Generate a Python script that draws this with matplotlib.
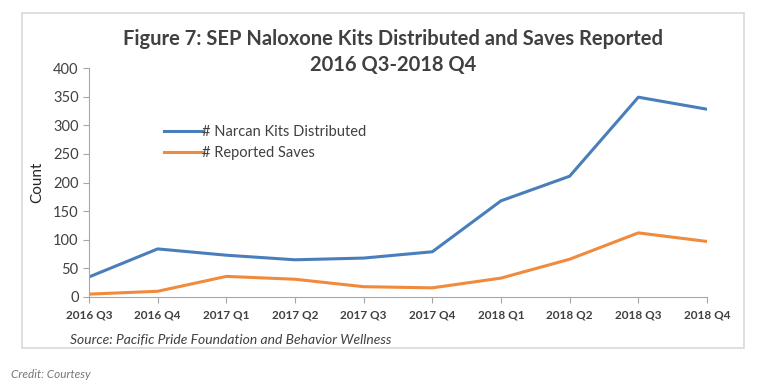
import matplotlib.pyplot as plt
from matplotlib.patches import Rectangle

quarters = ['2016 Q3', '2016 Q4', '2017 Q1', '2017 Q2', '2017 Q3',
            '2017 Q4', '2018 Q1', '2018 Q2', '2018 Q3', '2018 Q4']
kits = [35, 84, 73, 65, 68, 79, 168, 211, 349, 328]
saves = [5, 10, 36, 31, 18, 16, 33, 66, 112, 97]

plt.rcParams['font.family'] = ['Lato', 'DejaVu Sans']

fig = plt.figure(figsize=(7.68, 3.89), dpi=100)
fig.patches.append(Rectangle((22 / 768, 1 - 348 / 389), 722 / 768, 335 / 389,
                             transform=fig.transFigure, fill=False,
                             edgecolor='#d9d9d9', linewidth=1.2))

ax = fig.add_axes([89 / 768, 1 - 297 / 389, 618 / 768, 229 / 389])
x = range(len(quarters))
ax.plot(x, kits, color='#4a7ebb', linewidth=2.2, label='# Narcan Kits Distributed')
ax.plot(x, saves, color='#f08a3c', linewidth=2.2, label='# Reported Saves')

ax.set_xlim(0, len(quarters) - 1)
ax.set_ylim(0, 400)
ax.set_yticks(range(0, 401, 50))
ax.set_xticks(list(x))
ax.set_xticklabels(quarters, fontsize=8.5, fontweight='bold', color='#404040')
ax.tick_params(axis='y', labelsize=10.5, colors='#404040', length=4, color='#a6a6a6')
ax.tick_params(axis='x', length=4, color='#a6a6a6', pad=5)
for s in ['top', 'right']:
    ax.spines[s].set_visible(False)
for s in ['left', 'bottom']:
    ax.spines[s].set_color('#a6a6a6')
ax.set_ylabel('Count', fontsize=11, color='#262626', labelpad=6)

ax.legend(loc='upper left', bbox_to_anchor=(0.10, 0.81), frameon=False,
          fontsize=10.5, handlelength=2.6, handletextpad=0.0,
          labelspacing=0.5, labelcolor='#404040')

fig.text(393 / 768, 1 - 39 / 389, 'Figure 7: SEP Naloxone Kits Distributed and Saves Reported',
         ha='center', va='center', fontsize=14.5, fontweight='bold', color='#404040')
fig.text(393 / 768, 1 - 65 / 389, '2016 Q3-2018 Q4',
         ha='center', va='center', fontsize=14.5, fontweight='bold', color='#404040')
fig.text(70 / 768, 1 - 340 / 389, 'Source: Pacific Pride Foundation and Behavior Wellness',
         ha='left', va='center', fontsize=10, style='italic', color='#404040')
fig.text(11 / 768, 1 - 375 / 389, 'Credit: Courtesy',
         ha='left', va='center', fontsize=8.5, style='italic', color='#777777')

fig.savefig('out.png', dpi=100)
